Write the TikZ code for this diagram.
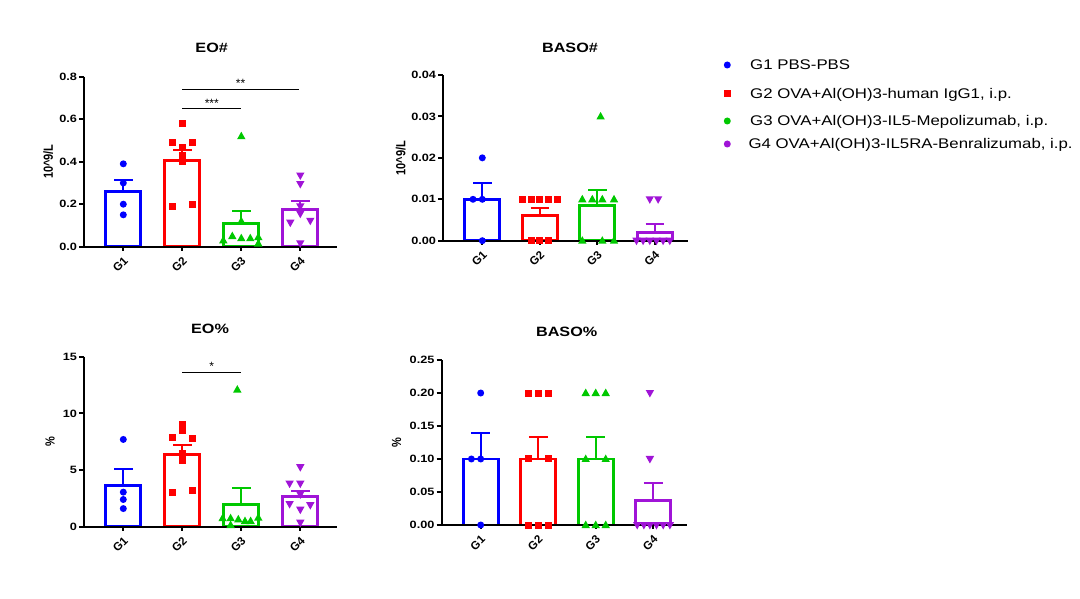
\documentclass[tikz,border=0pt]{standalone}
\usepackage{fontspec}
\setmainfont{Liberation Sans}
\definecolor{gone}{RGB}{0,0,255}
\definecolor{gtwo}{RGB}{255,0,0}
\definecolor{gthree}{RGB}{0,200,0}
\definecolor{gfour}{RGB}{160,20,215}
\tikzset{
  bar/.style={line width=2.8pt},
  errbar/.style={line width=2pt},
  axis/.style={line width=2pt, black},
  ticklab/.style={font=\bfseries\fontsize{10.6}{12}\selectfont, inner sep=0pt, xscale=1.2, transform shape},
  glab/.style={font=\bfseries\fontsize{11.5}{12}\selectfont, inner sep=0pt, rotate=45, transform shape},
  title/.style={font=\bfseries\fontsize{13.5}{16}\selectfont, xscale=1.2, transform shape},
  ylab/.style={font=\bfseries\fontsize{11}{13}\selectfont, xscale=1.2, rotate=90, transform shape},
  legtext/.style={font=\fontsize{14}{16}\selectfont, inner sep=0pt, xscale=1.2, transform shape},
  sig/.style={line width=1pt},
  stars/.style={font=\fontsize{12}{12}\selectfont, inner sep=1pt},
  dot/.pic={\fill (0pt,0pt) circle (3.5pt);},
  sq/.pic={\fill (-3.5pt,-3.5pt) rectangle (3.5pt,3.5pt);},
  up/.pic={\fill (0pt,4.5pt) -- (-4.2pt,-3pt) -- (4.2pt,-3pt) -- cycle;},
  dn/.pic={\fill (0pt,-4.5pt) -- (-4.2pt,3pt) -- (4.2pt,3pt) -- cycle;},
}
\begin{document}
\begin{tikzpicture}[x=1pt, y=-1pt]
  \useasboundingbox[fill=white] (0,0) rectangle (1080,599);

  % EO# panel
  \begin{scope}[shift={(84.3,246.7)}, y=212.5pt]
    \foreach \c/\h/\col in {39/0.26/gone, 98/0.405/gtwo, 157/0.11/gthree, 216/0.175/gfour}
      \draw[bar, \col] ({\c-17.5},0) rectangle ({\c+17.5},\h);
    \draw[axis] (0,0.8) -- (0,0) -- (252.4,0);
    \foreach \v [count=\i] in {0.0,0.2,0.4,0.6,0.8} {
      \draw[axis] (-5,\v) -- (0,\v);
      \node[ticklab, anchor=east] (eon-y\i) at (-7,\v) {\v};
    }
    \foreach \c [count=\i] in {39,98,157,216} {
      \draw[axis] (\c,0) -- ++(0pt,-4pt);
      \node[yshift=-18pt, glab] (eon-g\i) at ({\c-3},0) {G\i};
    }
    \foreach \c/\h/\e/\col in {39/0.26/0.315/gone, 98/0.405/0.455/gtwo, 157/0.11/0.17/gthree, 216/0.175/0.215/gfour}
      \draw[errbar, \col] (\c,\h) -- (\c,\e) ({\c-9.3},\e) -- ({\c+9.3},\e);
    \foreach \x/\v in {0/0.39, 0/0.30, 0/0.20, 0/0.15}
      \pic[gone] at ({39+\x},\v) {dot};
    \foreach \x/\v in {0/0.58, -10/0.49, 10/0.49, 0/0.465, 0/0.43, 0/0.40, -10/0.19, 10/0.20}
      \pic[gtwo] at ({98+\x},\v) {sq};
    \foreach \x/\v in {0/0.52, 0/0.12, -18/0.03, -9/0.05, 0/0.04, 9/0.04, 17/0.045, 17/0.015}
      \pic[gthree] at ({157+\x},\v) {up};
    \foreach \x/\v in {0/0.335, 0/0.295, 0/0.19, 0/0.155, -10/0.113, 10/0.122, 0/0.016}
      \pic[gfour] at ({216+\x},\v) {dn};
    \draw[sig] (98,0.741) -- (214.7,0.741) node[stars, midway, anchor=south] (eon-s1) {**};
    \draw[sig] (98,0.648) -- (157,0.648) node[stars, midway, anchor=south] (eon-s2) {***};
  \end{scope}

  % BASO# panel
  \begin{scope}[shift={(443.3,240.7)}, y=4142pt]
    \foreach \c/\h/\col in {39/0.01/gone, 96.5/0.006/gtwo, 154/0.0085/gthree, 211.5/0.002/gfour}
      \draw[bar, \col] ({\c-17.5},0) rectangle ({\c+17.5},\h);
    \draw[axis] (0,0.04) -- (0,0) -- (245,0);
    \foreach \v [count=\i] in {0.00,0.01,0.02,0.03,0.04} {
      \draw[axis] (-5,\v) -- (0,\v);
      \node[ticklab, anchor=east] (ban-y\i) at (-7,\v) {\v};
    }
    \foreach \c [count=\i] in {39,96.5,154,211.5} {
      \draw[axis] (\c,0) -- ++(0pt,-4pt);
      \node[yshift=-18pt, glab] (ban-g\i) at ({\c-3},0) {G\i};
    }
    \foreach \c/\h/\e/\col in {39/0.01/0.014/gone, 96.5/0.006/0.008/gtwo, 154/0.0085/0.0122/gthree, 211.5/0.002/0.004/gfour}
      \draw[errbar, \col] (\c,\h) -- (\c,\e) ({\c-9.3},\e) -- ({\c+9.3},\e);
    \foreach \x/\v in {0/0.02, -9.3/0.01, 0/0.01, 0/0}
      \pic[gone] at ({39+\x},\v) {dot};
    \foreach \x/\v in {-17.3/0.01, -8.7/0.01, 0/0.01, 8.7/0.01, 17.3/0.01, -8.7/0, 0/0, 8.7/0}
      \pic[gtwo] at ({96.5+\x},\v) {sq};
    \foreach \x/\v in {3.3/0.03, -15/0.01, -5/0.01, 5/0.01, 16.7/0.01, -15/0, 5/0, 16.7/0}
      \pic[gthree] at ({154+\x},\v) {up};
    \foreach \x/\v in {-5/0.01, 3.3/0.01, -18.3/0, -11.7/0, -5/0, 1.7/0, 8.3/0, 15/0}
      \pic[gfour] at ({211.5+\x},\v) {dn};
  \end{scope}

  % EO% panel
  \begin{scope}[shift={(84.3,526.7)}, y=11.333pt]
    \foreach \c/\h/\col in {39/3.65/gone, 98/6.4/gtwo, 157/1.95/gthree, 216/2.65/gfour}
      \draw[bar, \col] ({\c-17.5},0) rectangle ({\c+17.5},\h);
    \draw[axis] (0,15) -- (0,0) -- (252.4,0);
    \foreach \v [count=\i] in {0,5,10,15} {
      \draw[axis] (-5,\v) -- (0,\v);
      \node[ticklab, anchor=east] (eop-y\i) at (-7,\v) {\v};
    }
    \foreach \c [count=\i] in {39,98,157,216} {
      \draw[axis] (\c,0) -- ++(0pt,-4pt);
      \node[yshift=-18pt, glab] (eop-g\i) at ({\c-3},0) {G\i};
    }
    \foreach \c/\h/\e/\col in {39/3.65/5.05/gone, 98/6.4/7.25/gtwo, 157/1.95/3.45/gthree, 216/2.65/3.15/gfour}
      \draw[errbar, \col] (\c,\h) -- (\c,\e) ({\c-9.3},\e) -- ({\c+9.3},\e);
    \foreach \x/\v in {0/7.7, 0/3.05, 0/2.4, 0/1.6}
      \pic[gone] at ({39+\x},\v) {dot};
    \foreach \x/\v in {0/9.05, 0/8.45, -10/7.9, 10/7.8, 0/6.5, 0/5.8, -10/3.0, 10/3.2}
      \pic[gtwo] at ({98+\x},\v) {sq};
    \foreach \x/\v in {-4/12.1, -18.7/0.75, -10.7/0.75, -3/0.65, 3.7/0.5, 9.3/0.5, 17/0.8, -10.7/0.15}
      \pic[gthree] at ({157+\x},\v) {up};
    \foreach \x/\v in {0/5.25, -10.7/3.8, 0/3.8, 0/2.85, -10.7/2.0, 10/1.9, 0/1.5, 0/0.35}
      \pic[gfour] at ({216+\x},\v) {dn};
    \draw[sig] (98,13.65) -- (157,13.65) node[stars, midway, anchor=south] (eop-s1) {*};
  \end{scope}

  % BASO% panel
  \begin{scope}[shift={(441.7,525)}, y=660pt]
    \foreach \c/\h/\col in {39/0.1/gone, 96.5/0.1/gtwo, 154/0.1/gthree, 211.5/0.037/gfour}
      \draw[bar, \col] ({\c-17.5},0) rectangle ({\c+17.5},\h);
    \draw[axis] (0,0.25) -- (0,0) -- (245,0);
    \foreach \v [count=\i] in {0.00,0.05,0.10,0.15,0.20,0.25} {
      \draw[axis] (-5,\v) -- (0,\v);
      \node[ticklab, anchor=east] (bap-y\i) at (-7,\v) {\v};
    }
    \foreach \c [count=\i] in {39,96.5,154,211.5} {
      \draw[axis] (\c,0) -- ++(0pt,-4pt);
      \node[yshift=-18pt, glab] (bap-g\i) at ({\c-3},0) {G\i};
    }
    \foreach \c/\h/\e/\col in {39/0.1/0.14/gone, 96.5/0.1/0.133/gtwo, 154/0.1/0.133/gthree, 211.5/0.037/0.063/gfour}
      \draw[errbar, \col] (\c,\h) -- (\c,\e) ({\c-9.3},\e) -- ({\c+9.3},\e);
    \foreach \x/\v in {0/0.2, -9.3/0.1, 0/0.1, 0/0}
      \pic[gone] at ({39+\x},\v) {dot};
    \foreach \x/\v in {-10/0.2, 0/0.2, 10/0.2, -10/0.1, 10/0.1, -10/0, 0/0, 10/0}
      \pic[gtwo] at ({96.5+\x},\v) {sq};
    \foreach \x/\v in {-10/0.2, 0/0.2, 10/0.2, -10/0.1, 10/0.1, -10/0, 0/0, 10/0}
      \pic[gthree] at ({154+\x},\v) {up};
    \foreach \x/\v in {-3.3/0.2, -3.3/0.1, -16/0, -9.3/0, -3.3/0, 3.3/0, 10/0, 16.7/0}
      \pic[gfour] at ({211.5+\x},\v) {dn};
  \end{scope}

  % titles and axis labels
  \node[title] (t-eon) at (211.7,47.7) {EO\#};
  \node[title] (t-ban) at (570,47.7) {BASO\#};
  \node[title] (t-eop) at (210,329) {EO\%};
  \node[title] (t-bap) at (566.7,331.7) {BASO\%};
  \node[ylab] (l-eon) at (48.3,161.7) {10\textasciicircum{}9/L};
  \node[ylab] (l-ban) at (400.7,158) {10\textasciicircum{}9/L};
  \node[ylab] (l-eop) at (50,441.7) {\%};
  \node[ylab] (l-bap) at (396.7,443) {\%};

  % legend
  \pic[gone] at (727.3,65) {dot};
  \pic[gtwo] at (727.3,93.3) {sq};
  \pic[gthree] at (727.3,121) {dot};
  \pic[gfour] at (727.3,144) {dot};
  \node[legtext, anchor=base west] (lg1) at (750,70) {G1 PBS-PBS};
  \node[legtext, anchor=base west] (lg2) at (750,98.3) {G2 OVA+Al(OH)3-human IgG1, i.p.};
  \node[legtext, anchor=base west] (lg3) at (750,126) {G3 OVA+Al(OH)3-IL5-Mepolizumab, i.p.};
  \node[legtext, anchor=base west] (lg4) at (748.3,149) {G4 OVA+Al(OH)3-IL5RA-Benralizumab, i.p.};
\end{tikzpicture}
\end{document}
